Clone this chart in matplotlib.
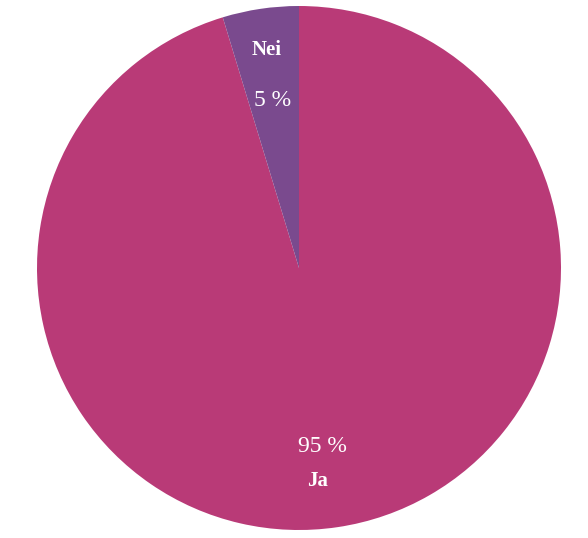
import matplotlib
matplotlib.use("Agg")
import matplotlib.pyplot as plt
import numpy as np

categories = ["Ja", "Nei"]
values = [95.3, 4.7]
colors = ["#B93A77", "#7A4A8E"]
pct_labels = [f"{round(v)} %" for v in values]

fig = plt.figure(figsize=(5.88, 5.38), dpi=100)
ax = fig.add_axes([37/588, 8/538, 524/588, 524/538])
wedges, _ = ax.pie(values, colors=colors, startangle=90, counterclock=False,
                   radius=1.0, wedgeprops=dict(linewidth=0))
ax.set_xlim(-1, 1)
ax.set_ylim(-1, 1)
ax.set_aspect("equal")
ax.axis("off")

font = "Liberation Serif"
# Ja labels
ax.text(0.088, -0.683, pct_labels[0], color="white", fontsize=17, family=font,
        ha="center", va="center")
ax.text(0.069, -0.812, categories[0], color="white", fontsize=15, family=font,
        fontweight="bold", ha="center", va="center")
# Nei labels
ax.text(-0.122, 0.833, categories[1], color="white", fontsize=15, family=font,
        fontweight="bold", ha="center", va="center")
ax.text(-0.099, 0.638, pct_labels[1], color="white", fontsize=17, family=font,
        ha="center", va="center")

fig.savefig("out.png", dpi=100, facecolor="white")
